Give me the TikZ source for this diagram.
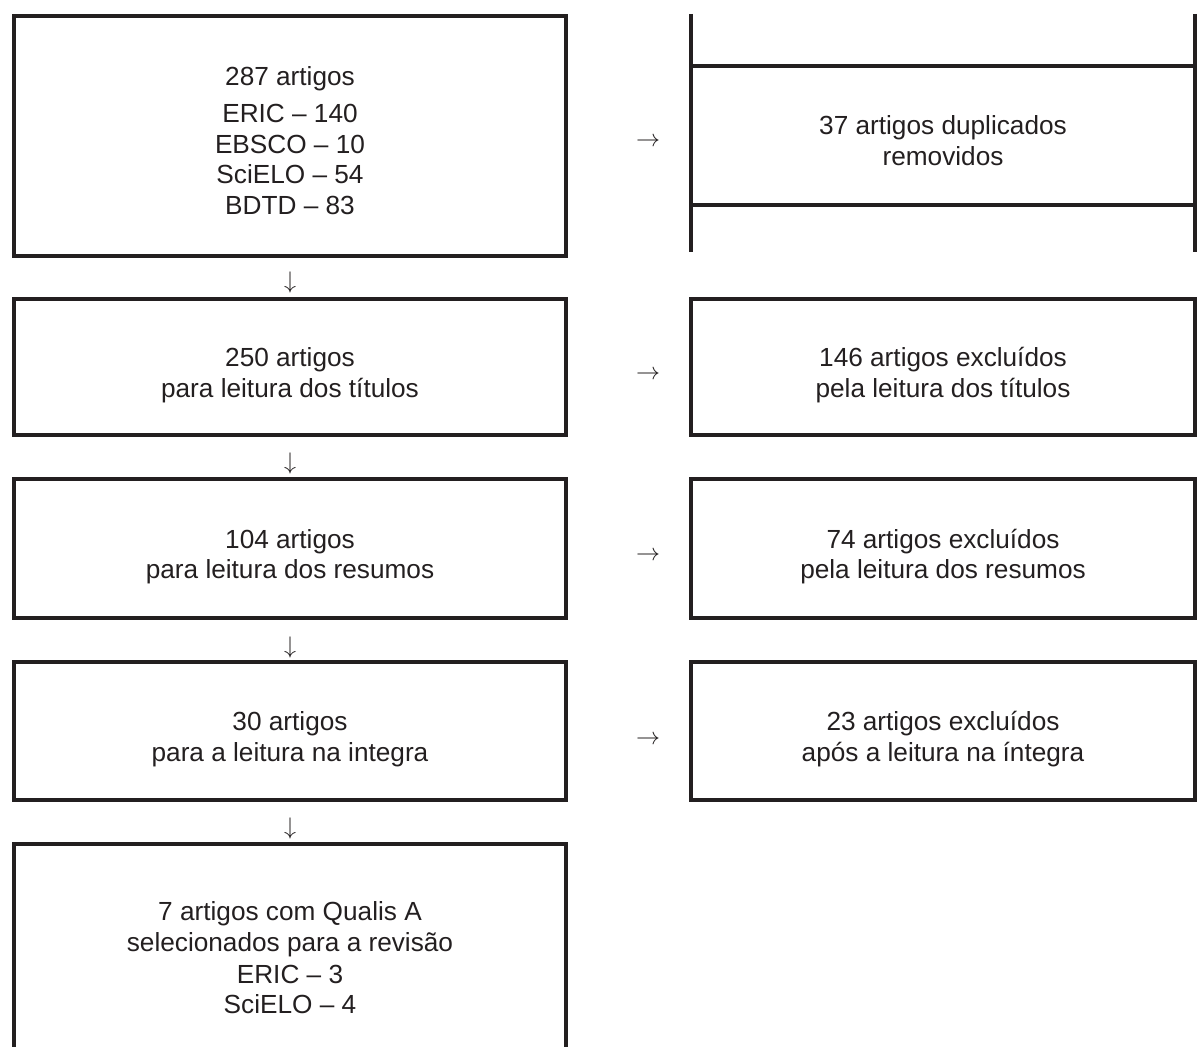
\documentclass[tikz,border=0pt]{standalone}
\usepackage{fontspec}
\setmainfont{Liberation Sans}
\usepackage{tikz}
\definecolor{ink}{HTML}{231F20}
\newcommand\boxfont{\fontsize{13.1pt}{15.3pt}\selectfont}
\newcommand\topgap[1]{\rule{0pt}{#1}}

\begin{document}
\begin{tikzpicture}[x=0.5pt, y=-0.5pt, every node/.style={font=\boxfont, text=ink},
  box/.style={draw=ink, line width=2pt, align=center, inner sep=0pt, outer sep=0pt},
  lbox/.style={box, minimum width=276pt},
  rbox/.style={box, minimum width=252pt},
  edge/.style={draw=ink, line width=2pt}]
  \useasboundingbox (0,0) rectangle (1197,1047);
  % left column
  \node[lbox, minimum height=120pt] (total) at (290,136) {\topgap{13.9pt}287 artigos\\[3.5pt]ERIC -- 140\\EBSCO -- 10\\SciELO -- 54\\BDTD -- 83};
  \node[lbox, minimum height=68pt] (titulos) at (290,367) {\topgap{17.9pt}250 artigos\\para leitura dos títulos};
  \node[lbox, minimum height=69.5pt] (resumos) at (290,548.5) {\topgap{17.9pt}104 artigos\\para leitura dos resumos};
  \node[lbox, minimum height=69pt] (integra) at (290,731) {\topgap{17.9pt}30 artigos\\para a leitura na integra};
  \node[lbox, draw=none] (final) at (290,956) {\topgap{11.4pt}7 artigos com Qualis A\\selecionados para a revisão\\[0.5pt]ERIC -- 3\\SciELO -- 4};
  \coordinate (ftop) at (0,844);
  \coordinate (fbot) at (0,1047);
  \draw[edge] (final.west |- fbot) -- (final.west |- ftop) -- (final.east |- ftop) -- (final.east |- fbot);
  % right column
  \node[rbox, draw=none, minimum height=69.5pt] (dup) at (943,135.5) {\topgap{14.9pt}37 artigos duplicados\\removidos};
  \coordinate (dtop) at (0,14);
  \coordinate (dbot) at (0,252);
  \draw[edge] (dup.north west) -- (dup.north east);
  \draw[edge] (dup.south west) -- (dup.south east);
  \draw[edge] (dup.west |- dtop) -- (dup.west |- dbot);
  \draw[edge] (dup.east |- dtop) -- (dup.east |- dbot);
  \node[rbox, minimum height=68pt] (extitulos) at (943,367) {\topgap{17.9pt}146 artigos excluídos\\pela leitura dos títulos};
  \node[rbox, minimum height=69.5pt] (exresumos) at (943,548.5) {\topgap{17.9pt}74 artigos excluídos\\pela leitura dos resumos};
  \node[rbox, minimum height=69pt] (exintegra) at (943,731) {\topgap{17.9pt}23 artigos excluídos\\após a leitura na íntegra};
  % arrows
  \node (d1) at (290,283) {$\downarrow$};
  \node (d2) at (290,463) {$\downarrow$};
  \node (d3) at (290,647) {$\downarrow$};
  \node (d4) at (290,828) {$\downarrow$};
  \node (r1) at (648,142) {$\rightarrow$};
  \node (r2) at (648,375) {$\rightarrow$};
  \node (r3) at (648,556) {$\rightarrow$};
  \node (r4) at (648,740) {$\rightarrow$};
\end{tikzpicture}
\end{document}
